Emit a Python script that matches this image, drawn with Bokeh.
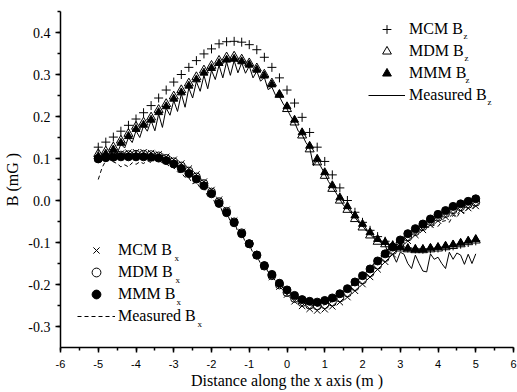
from bokeh.plotting import figure
from bokeh.models import (Range1d, SingleIntervalTicker, Legend, LegendItem, Label,
                          NumeralTickFormatter)
from bokeh.embed import file_html
from bokeh.resources import INLINE

# ---------------- data ----------------
x_sim = [-5.0, -4.8, -4.6, -4.4, -4.2, -4.0, -3.8, -3.6, -3.4, -3.2,
         -3.0, -2.8, -2.6, -2.4, -2.2, -2.0, -1.8, -1.6, -1.4, -1.2,
         -1.0, -0.8, -0.6, -0.4, -0.2, 0.0, 0.2, 0.4, 0.6, 0.8,
         1.0, 1.2, 1.4, 1.6, 1.8, 2.0, 2.2, 2.4, 2.6, 2.8,
         3.0, 3.2, 3.4, 3.6, 3.8, 4.0, 4.2, 4.4, 4.6, 4.8, 5.0]

mcm_bz = [0.127, 0.139, 0.151, 0.165, 0.179, 0.194, 0.209, 0.226, 0.244, 0.263,
          0.282, 0.300, 0.317, 0.333, 0.349, 0.361, 0.373, 0.378, 0.379, 0.377,
          0.371, 0.359, 0.341, 0.317, 0.292, 0.263, 0.232, 0.198, 0.162, 0.127,
          0.093, 0.061, 0.030, 0.000, -0.028, -0.052, -0.071, -0.086, -0.097, -0.106,
          -0.110, -0.113, -0.115, -0.116, -0.115, -0.113, -0.111, -0.108, -0.104, -0.100,
          -0.096]
mdm_bz = [0.111, 0.117, 0.127, 0.143, 0.159, 0.176, 0.186, 0.198, 0.216, 0.230,
          0.248, 0.263, 0.279, 0.294, 0.310, 0.321, 0.333, 0.341, 0.343, 0.336,
          0.327, 0.315, 0.300, 0.279, 0.252, 0.218, 0.186, 0.155, 0.122, 0.091,
          0.059, 0.028, 0.000, -0.022, -0.044, -0.064, -0.083, -0.098, -0.104, -0.111,
          -0.114, -0.116, -0.118, -0.118, -0.116, -0.114, -0.111, -0.108, -0.104, -0.099,
          -0.095]
mmm_bz = [0.105, 0.111, 0.121, 0.137, 0.153, 0.170, 0.180, 0.192, 0.210, 0.224,
          0.242, 0.257, 0.273, 0.288, 0.304, 0.315, 0.327, 0.335, 0.337, 0.331,
          0.323, 0.311, 0.297, 0.276, 0.252, 0.224, 0.192, 0.162, 0.130, 0.099,
          0.067, 0.036, 0.007, -0.014, -0.036, -0.056, -0.076, -0.092, -0.099, -0.107,
          -0.111, -0.114, -0.116, -0.116, -0.113, -0.111, -0.108, -0.105, -0.101, -0.096,
          -0.092]

mcm_bx = [0.100, 0.104, 0.108, 0.112, 0.114, 0.115, 0.115, 0.113, 0.110, 0.104,
          0.097, 0.088, 0.076, 0.062, 0.045, 0.025, 0.002, -0.022, -0.048, -0.075,
          -0.102, -0.130, -0.157, -0.182, -0.205, -0.224, -0.240, -0.251, -0.258, -0.262,
          -0.259, -0.252, -0.242, -0.230, -0.215, -0.199, -0.182, -0.164, -0.146, -0.128,
          -0.111, -0.096, -0.082, -0.070, -0.058, -0.048, -0.039, -0.031, -0.024, -0.018,
          -0.013]
mdm_bx = [0.100, 0.103, 0.106, 0.108, 0.109, 0.110, 0.110, 0.109, 0.106, 0.100,
          0.092, 0.082, 0.070, 0.056, 0.040, 0.020, -0.003, -0.026, -0.051, -0.077,
          -0.103, -0.130, -0.156, -0.179, -0.201, -0.219, -0.233, -0.243, -0.249, -0.251,
          -0.248, -0.242, -0.232, -0.220, -0.205, -0.189, -0.172, -0.154, -0.136, -0.119,
          -0.102, -0.087, -0.074, -0.062, -0.050, -0.040, -0.031, -0.022, -0.015, -0.009,
          -0.004]
mmm_bx = [0.099, 0.102, 0.103, 0.104, 0.104, 0.104, 0.104, 0.103, 0.101, 0.095,
          0.087, 0.076, 0.064, 0.051, 0.035, 0.016, -0.007, -0.029, -0.053, -0.079,
          -0.103, -0.130, -0.155, -0.176, -0.197, -0.213, -0.226, -0.236, -0.240, -0.242,
          -0.238, -0.232, -0.222, -0.210, -0.194, -0.179, -0.163, -0.144, -0.127, -0.111,
          -0.094, -0.079, -0.067, -0.056, -0.044, -0.033, -0.024, -0.014, -0.008, -0.002,
          0.004]

x_meas = [-5.0, -4.9, -4.8, -4.7, -4.6, -4.5, -4.4, -4.3, -4.2, -4.1,
          -4.0, -3.9, -3.8, -3.7, -3.6, -3.5, -3.4, -3.3, -3.2, -3.1,
          -3.0, -2.9, -2.8, -2.7, -2.6, -2.5, -2.4, -2.3, -2.2, -2.1,
          -2.0, -1.9, -1.8, -1.7, -1.6, -1.5, -1.4, -1.3, -1.2, -1.1,
          -1.0, -0.9, -0.8, -0.7, -0.6, -0.5, -0.4, -0.3, -0.2, -0.1,
          0.0, 0.1, 0.2, 0.3, 0.4, 0.5, 0.6, 0.7, 0.8, 0.9,
          1.0, 1.1, 1.2, 1.3, 1.4, 1.5, 1.6, 1.7, 1.8, 1.9,
          2.0, 2.1, 2.2, 2.3, 2.4, 2.5, 2.6, 2.7, 2.8, 2.9,
          3.0, 3.1, 3.2, 3.3, 3.4, 3.5, 3.6, 3.7, 3.8, 3.9,
          4.0, 4.1, 4.2, 4.3, 4.4, 4.5, 4.6, 4.7, 4.8, 4.9, 5.0]

meas_bz = [0.100, 0.105, 0.110, 0.104, 0.120, 0.112, 0.134, 0.125, 0.150, 0.138,
           0.166, 0.150, 0.178, 0.165, 0.190, 0.166, 0.206, 0.174, 0.220, 0.203,
           0.238, 0.212, 0.254, 0.222, 0.268, 0.244, 0.283, 0.260, 0.298, 0.266,
           0.310, 0.288, 0.322, 0.292, 0.330, 0.298, 0.333, 0.304, 0.328, 0.303,
           0.320, 0.292, 0.308, 0.284, 0.293, 0.264, 0.270, 0.250, 0.247, 0.230,
           0.218, 0.200, 0.186, 0.165, 0.157, 0.138, 0.126, 0.083, 0.095, 0.080,
           0.064, 0.045, 0.032, 0.018, 0.003, -0.012, -0.018, -0.030, -0.040, -0.052,
           -0.060, -0.072, -0.080, -0.090, -0.096, -0.100, -0.104, -0.135, -0.128, -0.147,
           -0.123, -0.128, -0.150, -0.162, -0.130, -0.150, -0.168, -0.170, -0.127, -0.140,
           -0.135, -0.150, -0.162, -0.123, -0.140, -0.125, -0.130, -0.152, -0.128, -0.150,
           -0.127]
meas_bx = [0.050, 0.078, 0.095, 0.098, 0.092, 0.088, 0.080, 0.085, 0.080, 0.090,
           0.086, 0.092, 0.088, 0.095, 0.090, 0.097, 0.095, 0.090, 0.088, 0.080,
           0.078, 0.068, 0.066, 0.055, 0.054, 0.040, 0.044, 0.030, 0.030, 0.010,
           0.015, -0.008, -0.005, -0.030, -0.028, -0.050, -0.050, -0.075, -0.078, -0.100,
           -0.105, -0.125, -0.132, -0.150, -0.155, -0.170, -0.178, -0.192, -0.198, -0.208,
           -0.215, -0.222, -0.228, -0.235, -0.240, -0.245, -0.248, -0.250, -0.252, -0.250,
           -0.248, -0.245, -0.240, -0.235, -0.228, -0.222, -0.215, -0.205, -0.198, -0.188,
           -0.180, -0.170, -0.162, -0.150, -0.145, -0.130, -0.125, -0.112, -0.108, -0.098,
           -0.095, -0.088, -0.085, -0.080, -0.078, -0.070, -0.072, -0.062, -0.065, -0.058,
           -0.062, -0.050, -0.048, -0.052, -0.035, -0.040, -0.025, -0.030, -0.018, -0.020,
           -0.010]

legend_z_labels = ["MCM B", "MDM B", "MMM B", "Measured B"]
legend_x_labels = ["MCM B", "MDM B", "MMM B", "Measured B"]
x_label = "Distance along the x axis (m )"
y_label = "B (mG )"

SERIF = "Liberation Serif"
SANS = "Liberation Sans"

# ---------------- figure ----------------
p = figure(width=517, height=392, output_backend="svg", toolbar_location=None,
           x_range=Range1d(-6, 6), y_range=Range1d(-0.35, 0.45),
           min_border_left=60, min_border_right=4, min_border_top=11, min_border_bottom=45)
p.outline_line_color = None
p.grid.visible = False
p.background_fill_color = "white"
p.border_fill_color = "white"

# measured lines first (underneath markers)
r_meas_bz = p.line(x_meas, meas_bz, line_color="black", line_width=1)
r_meas_bx = p.line(x_meas, meas_bx, line_color="black", line_width=1, line_dash="4 3")

r_mcm_bx = p.scatter(x_sim, mcm_bx, marker="x", size=9, line_color="black", line_width=1)
r_mdm_bx = p.scatter(x_sim, mdm_bx, marker="circle", size=8, line_color="black",
                     fill_color=None, line_width=1)
r_mmm_bx = p.scatter(x_sim, mmm_bx, marker="circle", size=8, line_color="black",
                     fill_color="black")

r_mcm_bz = p.scatter(x_sim, mcm_bz, marker="cross", size=9, line_color="black", line_width=1)
r_mdm_bz = p.scatter(x_sim, mdm_bz, marker="triangle", size=9, line_color="black",
                     fill_color=None, line_width=1)
r_mmm_bz = p.scatter(x_sim, mmm_bz, marker="triangle", size=8, line_color="black",
                     fill_color="black")

# ---------------- axes ----------------
xa = p.xaxis[0]
xa.ticker = SingleIntervalTicker(interval=1, num_minor_ticks=2)
xa.formatter = NumeralTickFormatter(format="0")
ya = p.yaxis[0]
ya.ticker = SingleIntervalTicker(interval=0.1, num_minor_ticks=2)
ya.formatter = NumeralTickFormatter(format="0.0")
for ax in (xa, ya):
    ax.axis_line_width = 1.5
    ax.axis_line_color = "black"
    ax.major_tick_line_width = 1.5
    ax.minor_tick_line_width = 1.5
    ax.major_tick_line_color = "black"
    ax.minor_tick_line_color = "black"
    ax.major_tick_in = 0
    ax.major_tick_out = 5
    ax.minor_tick_in = 0
    ax.minor_tick_out = 3
    ax.major_label_text_color = "black"
    ax.axis_label_text_color = "black"
    ax.axis_label_text_font = SERIF
    ax.axis_label_text_font_style = "normal"
    ax.axis_label_text_font_size = "16px"

xa.axis_label = x_label
xa.major_label_text_font = SANS
xa.major_label_text_font_size = "11px"
xa.major_label_standoff = 7
xa.axis_label_standoff = 1

ya.axis_label = y_label
ya.major_label_text_font = SERIF
ya.major_label_text_font_size = "14px"
ya.major_label_standoff = 5
ya.axis_label_standoff = 4

# ---------------- legends ----------------
def make_legend(labels, renderers, loc, gw):
    items = [LegendItem(label=l, renderers=[r]) for l, r in zip(labels, renderers)]
    lg = Legend(items=items, location=loc, orientation="vertical",
                padding=0, margin=0, spacing=0, glyph_width=gw, glyph_height=22,
                label_height=22, label_standoff=4,
                label_text_font=SERIF, label_text_font_size="16px",
                label_text_color="black",
                border_line_color=None, background_fill_alpha=0)
    return lg

lg_z = make_legend(legend_z_labels, [r_mcm_bz, r_mdm_bz, r_mmm_bz, r_meas_bz], (308, 241), 37)
lg_x = make_legend(legend_x_labels, [r_mcm_bx, r_mdm_bx, r_mmm_bx, r_meas_bx], (17, 20), 38)
lg_x.label_standoff = 3
p.add_layout(lg_z)
p.add_layout(lg_x)

# subscripts (frame-relative screen units; y from frame bottom)
FL, FB = 60, 347
subs = [("z", 463, 35), ("z", 464, 57), ("z", 465, 79), ("z", 487, 101),
        ("x", 174, 257), ("x", 175, 279), ("x", 176, 301), ("x", 197, 323)]
for t, px, py in subs:
    p.add_layout(Label(x=px - FL, y=FB - py, x_units="screen", y_units="screen",
                       text=t, text_font=SERIF, text_font_size="9px",
                       text_color="black", text_baseline="alphabetic"))

open("out.html", "w").write(file_html(p, INLINE))
